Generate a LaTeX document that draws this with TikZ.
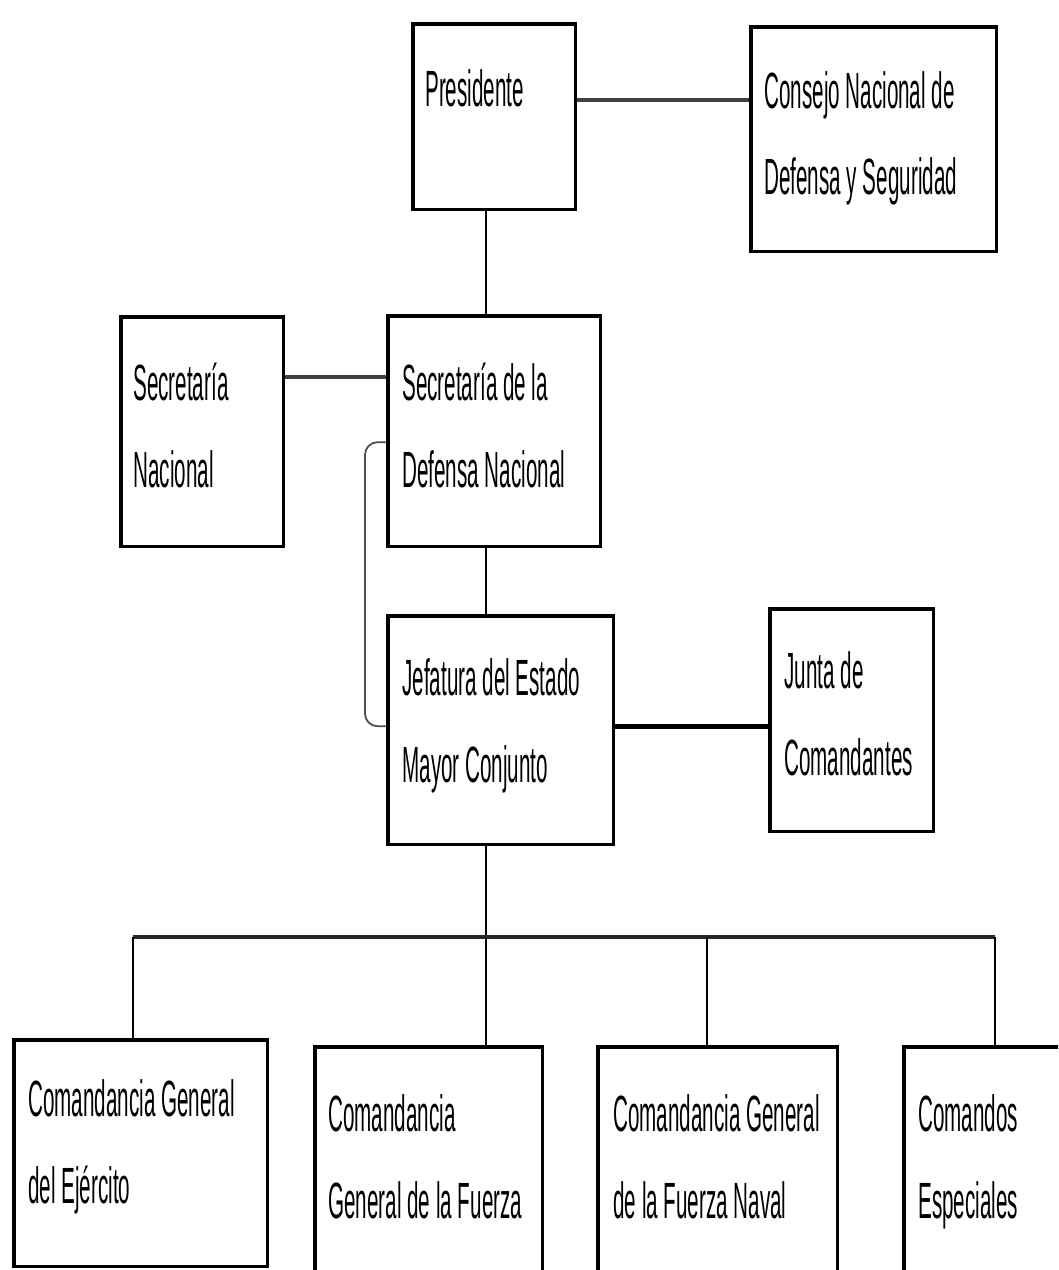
\documentclass[tikz,border=0pt]{standalone}
\usepackage{fontspec}
\usepackage{tikz}
\usetikzlibrary{calc}
\newfontfamily\orgfont[FakeStretch=0.405]{Liberation Sans}

\begin{document}
\begin{tikzpicture}[x=0.02cm,y=-0.02cm,
	orgbox/.style={draw=black,line width=2pt,anchor=north west,inner sep=0pt},
	orgtext/.style={anchor=base west,align=left,inner sep=0pt,font=\orgfont\fontsize{29}{49}\selectfont},
	thinlink/.style={draw=black,line width=1.1pt},
	thicklink/.style={draw=black,line width=2.8pt},
	bracket/.style={draw=black!70,line width=1pt,rounded corners=0.25cm}]

\useasboundingbox (0,0) rectangle (1058,1270);
\clip (0,0) rectangle (1058,1270);

% boxes
\node[orgbox,minimum width=3.26cm,minimum height=3.72cm] (pres) at (411,22) {};
\node[orgbox,minimum width=4.92cm,minimum height=4.5cm] (cnds) at (749,25) {};
\node[orgbox,minimum width=3.26cm,minimum height=4.6cm] (secnac) at (119,315) {};
\node[orgbox,minimum width=4.26cm,minimum height=4.62cm] (sdn) at (386,314) {};
\node[orgbox,minimum width=4.52cm,minimum height=4.58cm] (jemc) at (386,614) {};
\node[orgbox,minimum width=3.28cm,minimum height=4.46cm] (junta) at (768,607) {};
\node[orgbox,minimum width=5.08cm,minimum height=4.54cm] (ejer) at (12,1038) {};
\node[orgbox,minimum width=4.56cm,minimum height=5cm] (fuerza) at (313,1045) {};
\node[orgbox,minimum width=4.8cm,minimum height=5cm] (naval) at (596,1045) {};
\node[orgbox,minimum width=3.6cm,minimum height=5cm] (espec) at (902,1045) {};

% texts (anchored at the baseline of the last line)
\node[orgtext] (presT) at (425,107) {Presidente};
\node[orgtext] (cndsT) at (764,195) {Consejo Nacional de\\Defensa y Seguridad};
\node[orgtext] (secnacT) at (133,487) {Secretaría\\Nacional};
\node[orgtext] (sdnT) at (402,487) {Secretaría de la\\Defensa Nacional};
\node[orgtext] (jemcT) at (402,782) {Jefatura del Estado\\Mayor Conjunto};
\node[orgtext] (juntaT) at (784,775) {Junta de\\Comandantes};
\node[orgtext] (ejerT) at (28,1203) {Comandancia General\\del Ejército};
\node[orgtext] (fuerzaT) at (328,1218) {Comandancia\\General de la Fuerza};
\node[orgtext] (navalT) at (613,1218) {Comandancia General\\de la Fuerza Naval};
\node[orgtext] (especT) at (918,1218) {Comandos\\Especiales};

% connectors
\coordinate (trunk) at (486,0);
\coordinate (busL) at (133,937);
\coordinate (busR) at (995,937);
\coordinate (dropN) at (707,937);

\draw[thicklink,black!75] ($(pres.north east)+(0,78)$) coordinate (pc) -- (pc -| cnds.west);
\draw[thinlink] (pres.south -| trunk) -- (sdn.north -| trunk);
\draw[thicklink,black!75] ($(secnac.north east)+(0,62)$) coordinate (ss) -- (ss -| sdn.west);
\draw[thinlink] (sdn.south -| trunk) -- (jemc.north -| trunk);
\draw[bracket] ($(sdn.west)+(0,11)$) -- ++(-21,0) |- ($(jemc.west)+(0,-4)$);
\draw[thicklink] ($(jemc.east)+(0,-4)$) coordinate (jj) -- (jj -| junta.west);
\draw[thinlink] (jemc.south -| trunk) -- (fuerza.north -| trunk);
\draw[thicklink,black!85] (busL) -- (busR);
\draw[thinlink] (busL) -- (busL |- ejer.north);
\draw[thinlink] (dropN) -- (dropN |- naval.north);
\draw[thinlink] (busR) -- (busR |- espec.north);

\end{tikzpicture}
\end{document}
